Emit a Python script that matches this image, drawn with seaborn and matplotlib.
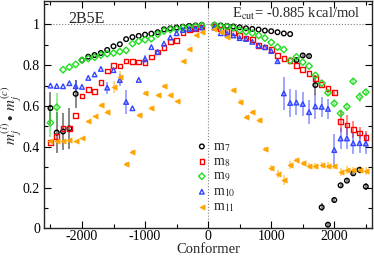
import numpy as np
import pandas as pd
import matplotlib
matplotlib.use("Agg")
import matplotlib.pyplot as plt
from matplotlib.ticker import MultipleLocator, FormatStrFormatter
import seaborn as sns

conformer = [-2500, -2400, -2300, -2200, -2100, -2000, -1900, -1800, -1700, -1600,
             -1500, -1400, -1300, -1200, -1100, -1000, -900, -800, -700, -600,
             -500, -400, -300, -200, -100,
             100, 200, 300, 400, 500, 600, 700, 800, 900, 1000,
             1100, 1200, 1300, 1400, 1500, 1600, 1700, 1800, 1900, 2000,
             2100, 2200, 2300, 2400, 2500]

m7 = [0.59, 0.47, 0.475, 0.49, 0.66, 0.825, 0.842, 0.85, 0.86, 0.875,
      0.893, 0.903, 0.928, 0.938, 0.944, 0.95, 0.955, 0.962, 0.976, 0.981,
      0.985, 0.989, 0.993, 0.995, 0.998,
      0.998, 0.995, 0.993, 0.99, 0.986, 0.981, 0.978, 0.975, 0.97, 0.967,
      0.962, 0.956, 0.953, 0.825, 0.848, 0.845, 0.703, 0.103, 0.018, 0.139,
      0.211, 0.234, 0.27, 0.287, 0.205]
m7_err = [0.08, 0.1, 0.09, 0.1, 0.07, 0, 0, 0, 0, 0,
          0, 0, 0, 0, 0, 0, 0, 0, 0, 0,
          0, 0, 0, 0, 0,
          0, 0, 0, 0, 0, 0, 0, 0, 0, 0,
          0, 0, 0, 0.012, 0.012, 0.012, 0.05, 0.02, 0.01, 0.008,
          0.008, 0.008, 0.01, 0.01, 0.015]

m8 = [0.42, 0.452, 0.49, 0.49, 0.553, 0.65, 0.68, 0.672, 0.715, 0.771,
      0.80, 0.797, 0.82, 0.818, 0.815, 0.812, 0.84, 0.865, 0.888, 0.917,
      0.921, 0.96, 0.973, 0.98, 0.987,
      0.99, 0.978, 0.965, 0.962, 0.946, 0.933, 0.925, 0.897, 0.889, 0.877,
      0.849, 0.833, 0.823, 0.80, 0.78, 0.76, 0.736, 0.707, 0.687, 0.665,
      0.525, 0.507, 0.485, 0.468, 0.447]
m8_err = [0] * 44 + [0.01, 0.05, 0.05, 0.04, 0.03, 0.03]

m9 = [0.518, 0.594, 0.778, 0.791, 0.804, 0.825, 0.833, 0.839, 0.85, 0.856,
      0.86, 0.867, 0.873, 0.906, 0.918, 0.925, 0.93, 0.952, 0.968, 0.975,
      0.977, 0.984, 0.986, 0.99, 0.995,
      0.997, 0.99, 0.989, 0.983, 0.972, 0.965, 0.958, 0.946, 0.933, 0.912,
      0.889, 0.877, 0.823, 0.841, 0.815, 0.796, 0.75, 0.712, 0.665, 0.613,
      0.564, 0.597, 0.721, 0.645, 0.668]
m9_err = [0.07, 0.07] + [0] * 41 + [0.01, 0.01, 0.015, 0.02, 0.012, 0.025, 0.015]

m10 = [0.70, 0.698, 0.697, 0.712, 0.697, 0.694, 0.738, 0.755, 0.782, 0.69,
       0.776, 0.727, 0.62, 0.589, 0.728, 0.831, 0.889, 0.865, 0.906, 0.936,
       0.957, 0.973, 0.978, 0.98, 0.985,
       0.985, 0.957, 0.955, 0.946, 0.933, 0.929, 0.915, 0.897, 0.889, 0.87,
       0.82, 0.662, 0.615, 0.617, 0.61, 0.57, 0.598, 0.596, 0.586, 0.384,
       0.441, 0.441, 0.417, 0.418, 0.416]
m10_err = [0, 0, 0, 0, 0.03, 0, 0, 0, 0, 0.03,
           0, 0.03, 0.06, 0, 0, 0.02, 0, 0, 0, 0,
           0, 0, 0, 0, 0,
           0, 0, 0, 0, 0, 0, 0, 0, 0, 0,
           0.01, 0.08, 0.07, 0.06, 0.06, 0.06, 0.06, 0.05, 0.05, 0.08,
           0.05, 0.05, 0.05, 0.05, 0.05]

m11 = [0.43, 0.43, 0.43, 0.434, 0.43, 0.441, 0.525, 0.55, 0.605, 0.57,
       0.692, 0.741, 0.316, 0.376, 0.557, 0.665, 0.59, 0.655, 0.697, 0.654,
       0.625, 0.822, 0.878, 0.946, 0.965,
       0.98, 0.962, 0.937, 0.679, 0.622, 0.544, 0.572, 0.529, 0.389, 0.298,
       0.265, 0.237, 0.31, 0.333, 0.32, 0.307, 0.306, 0.309, 0.308, 0.306,
       0.278, 0.287, 0.285, 0.286, 0.283]
m11_err = [0, 0, 0, 0, 0, 0, 0, 0, 0.01, 0.01,
           0.03, 0.03, 0.01, 0.01, 0.01, 0.01, 0.01, 0.01, 0.01, 0.01,
           0, 0, 0, 0, 0,
           0, 0, 0, 0.01, 0.01, 0.01, 0.01, 0.01, 0.01, 0.015,
           0.02, 0.025, 0.02, 0.01, 0.012, 0.015, 0.015, 0.015, 0.015, 0.015,
           0.02, 0.02, 0.015, 0.02, 0.02]

series = [
    ("m$_{7}$", m7, m7_err, "black", "o", False),
    ("m$_{8}$", m8, m8_err, "#ff0000", "s", False),
    ("m$_{9}$", m9, m9_err, "#22dd22", "D", False),
    ("m$_{10}$", m10, m10_err, "#3344ff", "^", False),
    ("m$_{11}$", m11, m11_err, "#ffa500", "<", True),
]

sns.set_theme(style="ticks")
plt.rcParams["font.family"] = ["Liberation Serif", "DejaVu Serif"]
plt.rcParams["mathtext.fontset"] = "stix"
plt.rcParams["axes.unicode_minus"] = False

fig = plt.figure(figsize=(3.74, 2.56), dpi=100)
ax = fig.add_axes([0.118, 0.108, 0.877, 0.888])

ax.axhline(1.0, color="gray", ls=":", lw=0.8, zorder=0)
ax.axvline(0, color="gray", ls=":", lw=0.8, zorder=0)

for label, vals, err, col, mk, filled in series:
    df = pd.DataFrame({"Conformer": conformer, "value": vals, "err": err})
    e = df[df["err"] > 0]
    ax.errorbar(e["Conformer"], e["value"], yerr=e["err"], fmt="none",
                ecolor=col, alpha=0.55, elinewidth=1.2, capsize=0, zorder=1)
    if filled:
        sns.scatterplot(data=df, x="Conformer", y="value", ax=ax, marker=mk,
                        color=col, edgecolor=col, s=14, linewidth=0.5,
                        label=label, zorder=3)
    else:
        sns.scatterplot(data=df, x="Conformer", y="value", ax=ax, marker=mk,
                        facecolor="none", edgecolor=col, s=11, linewidth=1.0,
                        label=label, zorder=3)

ax.set_xlim(-2600, 2600)
ax.set_ylim(0, 1.115)
ax.xaxis.set_major_locator(MultipleLocator(1000))
ax.xaxis.set_minor_locator(MultipleLocator(500))
ax.yaxis.set_major_locator(MultipleLocator(0.2))
ax.yaxis.set_minor_locator(MultipleLocator(0.1))
ax.yaxis.set_major_formatter(FormatStrFormatter("%g"))
ax.tick_params(which="both", direction="in", top=True, right=True,
               labelsize=10, colors="black")
ax.tick_params(axis="x", pad=1.5)
ax.tick_params(axis="y", pad=3)
ax.tick_params(which="major", length=5, width=0.8)
ax.tick_params(which="minor", length=3, width=0.8)
for sp in ax.spines.values():
    sp.set_linewidth(1.0)

ax.set_xlabel("Conformer", fontsize=10.5, labelpad=-0.5)
ax.set_ylabel(r"$m^{(i)}_{j}\bullet\,m^{(c)}_{j}$", fontsize=11, labelpad=-1)

ax.text(0.073, 0.905, "2B5E", transform=ax.transAxes, fontsize=11.5)
ax.text(0.963, 0.925, r"E$_{\rm cut}$= -0.885 kcal/mol", transform=ax.transAxes,
        fontsize=10.5, ha="right")

ax.legend(loc="lower left", bbox_to_anchor=(0.43, 0.02), frameon=False,
          fontsize=10, handletextpad=0.3, labelspacing=0.08,
          borderpad=0.2, handlelength=1.0)

fig.savefig("out.png", dpi=100)
